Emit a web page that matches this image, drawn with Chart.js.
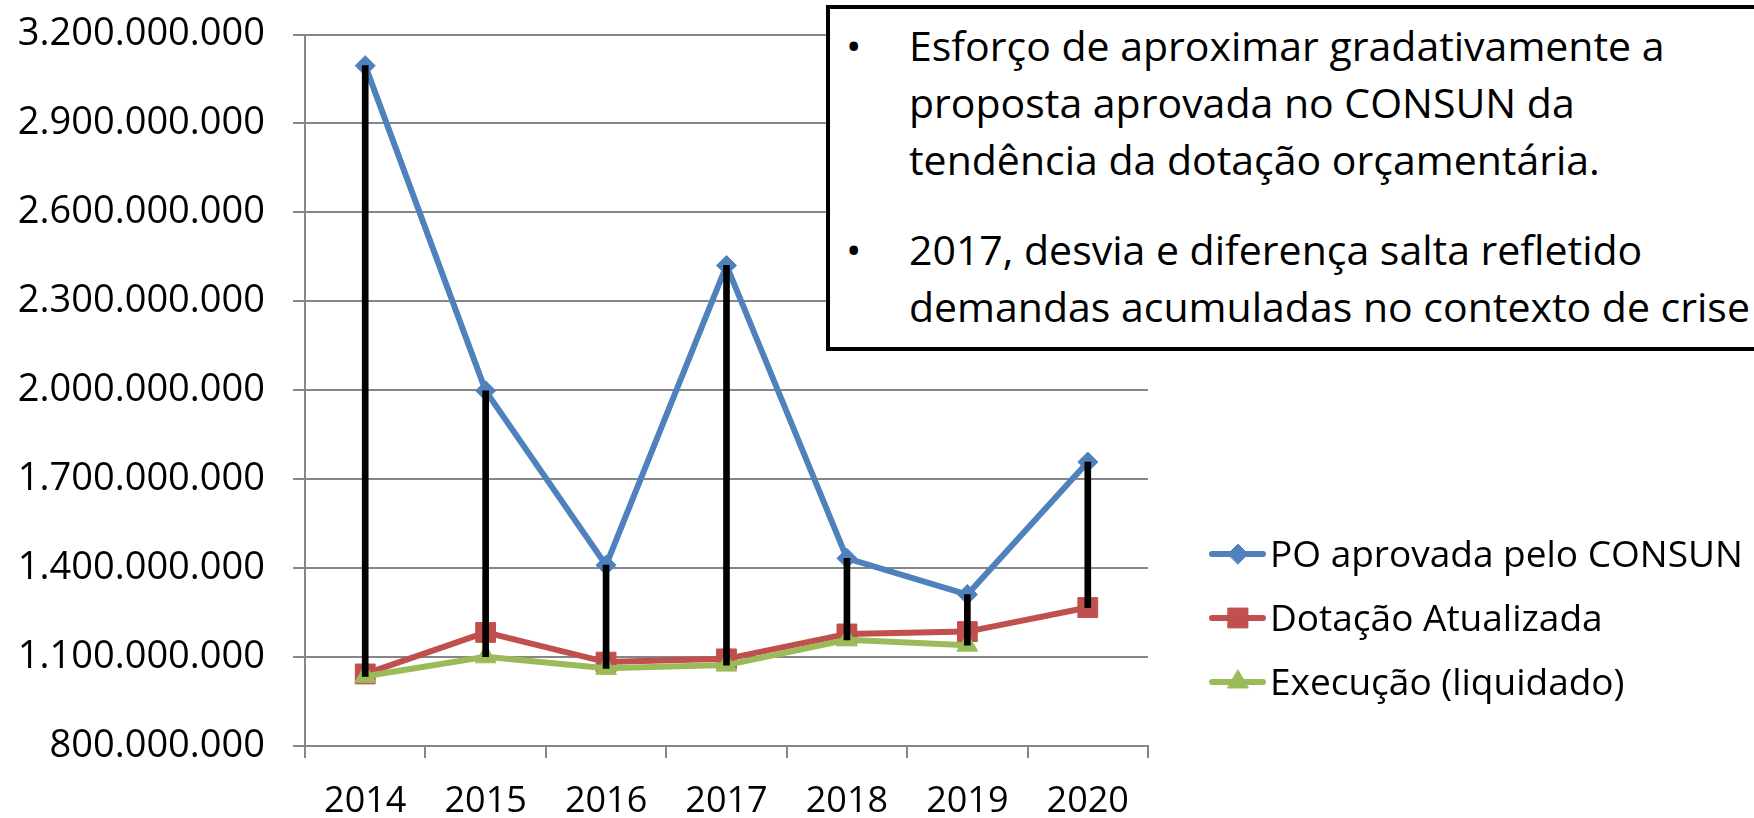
<!DOCTYPE html>
<html lang="pt-BR">
<head>
<meta charset="utf-8">
<title>PO aprovada x Dotação x Execução</title>
<script src="https://cdn.jsdelivr.net/npm/chart.js@4/dist/chart.umd.min.js"></script>
<style>
  html, body { margin: 0; padding: 0; background: #fff; overflow: hidden; }
  #wrap { position: relative; width: 1754px; height: 818px; }
  #note {
    position: absolute; left: 826px; top: 5px; width: 1000px; height: 346px;
    box-sizing: border-box; border: 4px solid #000; background: #fff;
    font-family: 'Open Sans', sans-serif; font-size: 41px; line-height: 57px; color: #000;
    padding-top: 8px; white-space: nowrap;
  }
  #note p { position: relative; margin: 0 0 33px 0; padding-left: 79px; }
  #note p span.b { position: absolute; left: 16px; top: 0; }
</style>
</head>
<body>
<div id="wrap">
  <canvas id="chart"></canvas>
  <div id="note">
    <p><span class="b">•</span>Esforço de aproximar gradativamente a<br>proposta aprovada no CONSUN da<br>tendência da dotação orçamentária.</p>
    <p><span class="b">•</span>2017, desvia e diferença salta refletido<br>demandas acumuladas no contexto de crise</p>
  </div>
</div>
<script>
// values
const years = ['2014', '2015', '2016', '2017', '2018', '2019', '2020'];
const poConsun = [3095e6, 1998e6, 1410e6, 2421e6, 1433e6, 1311e6, 1758e6];
const dotacao  = [1043e6, 1183e6, 1083e6, 1094e6, 1178e6, 1186e6, 1267e6];
const execucao = [1035e6, 1101e6, 1062e6, 1073e6, 1158e6, 1140e6, null];
const yTicks = { min: 800e6, max: 3200e6, step: 300e6 };

const BLUE = '#4F81BD', RED = '#C0504D', GREEN = '#9BBB59', GRID = '#868686';

// black high-low lines: from the CONSUN value down to the lowest of the others
const gaps = years.map((_, i) => {
  const lows = [dotacao[i], execucao[i]].filter(v => v != null);
  return [Math.min(...lows), poConsun[i]];
});

function fmt(v) {
  return String(Math.round(v)).replace(/\B(?=(\d{3})+(?!\d))/g, '.');
}

const series = [
  { label: 'PO aprovada pelo CONSUN', data: poConsun, color: BLUE, style: 'rectRot', r: 10, order: 3 },
  { label: 'Dotação Atualizada', data: dotacao, color: RED, style: 'rect', r: 14, order: 2 },
  { label: 'Execução (liquidado)', data: execucao, color: GREEN, style: 'triangle', r: 12, order: 1 }
];

const legendPlugin = {
  id: 'sideLegend',
  afterDraw(chart) {
    const ctx = chart.ctx;
    const x0 = chart.chartArea.right + 62;
    const y0 = 554;
    ctx.save();
    series.forEach((s, i) => {
      const y = y0 + i * 64;
      ctx.strokeStyle = s.color;
      ctx.lineWidth = 6;
      ctx.lineCap = 'round';
      ctx.beginPath();
      ctx.moveTo(x0 + 2, y);
      ctx.lineTo(x0 + 53, y);
      ctx.stroke();
      ctx.fillStyle = s.color;
      ctx.lineWidth = 1;
      Chart.helpers.drawPoint(ctx, { pointStyle: s.style, radius: s.r, rotation: 0, borderWidth: 1 }, x0 + 28, y);
      ctx.fillStyle = '#000';
      ctx.font = '37px "Open Sans"';
      ctx.textBaseline = 'middle';
      ctx.textAlign = 'left';
      ctx.fillText(s.label, x0 + 60, y + 2);
    });
    ctx.restore();
  }
};

Chart.defaults.font.family = "'Open Sans', sans-serif";
Chart.defaults.color = '#000';

new Chart(document.getElementById('chart').getContext('2d'), {
  type: 'line',
  data: {
    labels: years,
    datasets: [
      { type: 'bar', label: 'diferença', data: gaps, backgroundColor: '#000', barThickness: 6, grouped: false, order: 0 },
      ...series.map(s => ({
        label: s.label, data: s.data, borderColor: s.color, backgroundColor: s.color,
        borderWidth: 6, tension: 0, pointStyle: s.style, pointRadius: s.r, pointHoverRadius: s.r,
        pointBackgroundColor: s.color, pointBorderColor: s.color, pointBorderWidth: 1, order: s.order
      }))
    ]
  },
  options: {
    responsive: true,
    maintainAspectRatio: false,
    animation: false,
    events: [],
    layout: { padding: { top: 34.5, right: 606, bottom: 0, left: 0 } },
    plugins: { legend: { display: false }, tooltip: { enabled: false } },
    scales: {
      x: {
        offset: true,
        grid: { offset: true, drawOnChartArea: false, color: GRID, lineWidth: 2, tickLength: 12 },
        border: { color: GRID, width: 2 },
        ticks: { font: { size: 36 }, padding: 22, maxRotation: 0, autoSkip: false },
        afterFit: s => { s.height = 72; }
      },
      y: {
        min: yTicks.min, max: yTicks.max,
        grid: { color: GRID, lineWidth: 2, tickLength: 12 },
        border: { color: GRID, width: 2 },
        ticks: { stepSize: yTicks.step, font: { size: 38 }, padding: 28, callback: v => fmt(v) },
        afterFit: s => { s.width = 305; s.paddingTop = 0; s.paddingBottom = 0; }
      }
    }
  },
  plugins: [legendPlugin]
});
</script>
</body>
</html>
